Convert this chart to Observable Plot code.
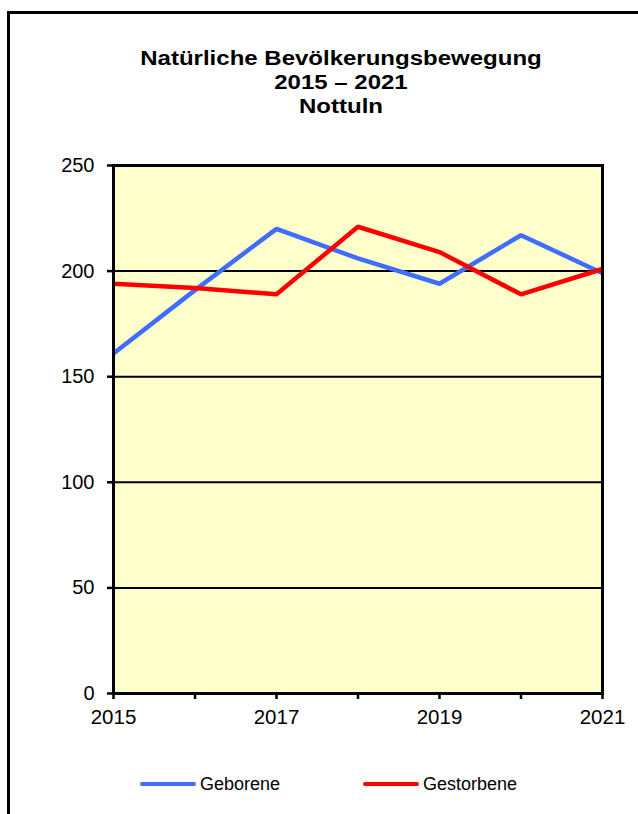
<!DOCTYPE html>
<html>
<head>
<meta charset="utf-8">
<script src="https://cdn.jsdelivr.net/npm/d3@7"></script>
<script src="https://cdn.jsdelivr.net/npm/@observablehq/plot@0.6"></script>
<style>
  html, body { margin: 0; padding: 0; background: #fff; }
  body { width: 638px; height: 814px; overflow: hidden; position: relative; font-family: Arial, "Liberation Sans", sans-serif; }
  #frame { position: absolute; left: 7px; top: 11px; width: 700px; height: 900px; border: 3px solid #000; box-sizing: border-box; }
  #title { position: absolute; left: 0; top: 46px; width: 682px; text-align: center; font-weight: bold; font-size: 20px; line-height: 24px; color: #000; transform: scaleX(1.2); transform-origin: 341px 0; }
  #chart { position: absolute; left: 0; top: 0; }
  .leg { position: absolute; top: 773px; font-size: 18px; line-height: 22px; color: #000; display: flex; align-items: center; }
  .sw { display: inline-block; width: 56px; height: 4px; border-radius: 2px; margin-right: 4px; }
</style>
</head>
<body>
<div id="frame"></div>
<div id="chart"></div>
<div id="title"></div>
<div id="legend"></div>
<script>
const titleLines = ["Natürliche Bevölkerungsbewegung", "2015 – 2021", "Nottuln"];
const years = [2015, 2016, 2017, 2018, 2019, 2020, 2021];
const geborene = [161, 191, 220, 206, 194, 217, 199];
const gestorbene = [194, 192, 189, 221, 209, 189, 201];
const seriesNames = ["Geborene", "Gestorbene"];
const seriesColors = ["#3f6dff", "#ff0000"];
const yTicks = [0, 50, 100, 150, 200, 250];
const gridValues = [50, 100, 150, 200];

const data = [];
years.forEach((yr, i) => {
  data.push({year: yr, value: geborene[i], series: seriesNames[0]});
  data.push({year: yr, value: gestorbene[i], series: seriesNames[1]});
});

const chart = Plot.plot({
  width: 638,
  height: 814,
  marginLeft: 113,
  marginRight: 36,
  marginTop: 165,
  marginBottom: 121,
  style: {fontFamily: 'Arial, "Liberation Sans", sans-serif', fontSize: "20px", color: "#000", background: "transparent", overflow: "visible"},
  x: {domain: [2015, 2021]},
  y: {domain: [0, 250]},
  color: {domain: seriesNames, range: seriesColors},
  marks: [
    Plot.frame({fill: "#ffffcc", stroke: null}),
    Plot.ruleY(gridValues, {stroke: "#000", strokeWidth: 2}),
    Plot.line(data, {x: "year", y: "value", z: "series", stroke: "series", strokeWidth: 4.5, strokeLinejoin: "miter", strokeLinecap: "butt"}),
    Plot.frame({stroke: "#000", strokeWidth: 3}),
    Plot.axisY({ticks: yTicks, tickSize: 6, tickPadding: 13, strokeWidth: 2.5, stroke: "#000", fontSize: 20, tickFormat: d => String(d), label: null}),
    Plot.axisX({ticks: years, tickSize: 6, tickPadding: 10, strokeWidth: 2.5, stroke: "#000", fontSize: 20.5, tickFormat: d => (d % 2 ? String(d) : ""), label: null})
  ]
});
document.getElementById("chart").appendChild(chart);

document.getElementById("title").innerHTML = titleLines.map(t => `<div>${t}</div>`).join("");

const legPos = [140, 363];
const legend = document.getElementById("legend");
seriesNames.forEach((name, i) => {
  const d = document.createElement("div");
  d.className = "leg";
  d.style.left = legPos[i] + "px";
  d.innerHTML = `<span class="sw" style="background:${seriesColors[i]}"></span><span>${name}</span>`;
  legend.appendChild(d);
});
</script>
</body>
</html>
